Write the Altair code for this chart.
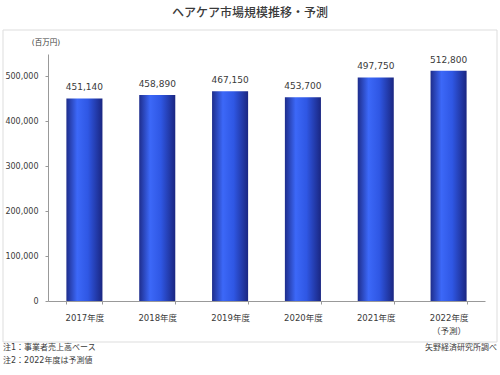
import altair as alt
import pandas as pd

years = ["2017年度", "2018年度", "2019年度", "2020年度", "2021年度", "2022年度"]
values = [451140, 458890, 467150, 453700, 497750, 512800]
y_ticks = [0, 100000, 200000, 300000, 400000, 500000]

title_text = "ヘアケア市場規模推移・予測"
unit_text = "(百万円)"
note1 = "注1：事業者売上高ベース"
note2 = "注2：2022年度は予測値"
source_text = "矢野経済研究所調べ"

FONT = "DejaVu Sans, Noto Sans CJK JP"
TXT = "#3a3a3a"
W, H = 437, 247

df = pd.DataFrame({"year": years, "value": values})

grad = alt.LinearGradient(
    gradient="linear",
    x1=0, x2=1, y1=0, y2=0,
    stops=[
        alt.GradientStop(offset=0, color="#1e2d8c"),
        alt.GradientStop(offset=0.3, color="#3c68f8"),
        alt.GradientStop(offset=0.6, color="#2f57e4"),
        alt.GradientStop(offset=1, color="#1a2681"),
    ],
)

base = alt.Chart(df)

bars = base.mark_bar(color=grad).encode(
    x=alt.X(
        "year:N",
        sort=years,
        title=None,
        scale=alt.Scale(paddingInner=0.505, paddingOuter=0.2525),
        axis=alt.Axis(
            labelAngle=0,
            labelFont=FONT,
            labelFontSize=8.5,
            labelColor=TXT,
            labelPadding=9,
            labelLineHeight=13,
            labelExpr="datum.value == '2022年度' ? ['2022年度', '（予測）'] : datum.value",
            tickBand="extent",
            tickSize=3,
            tickColor="#999999",
            domainColor="#999999",
        ),
    ),
    y=alt.Y(
        "value:Q",
        title=None,
        scale=alt.Scale(domain=[0, 550000], nice=False),
        axis=alt.Axis(
            values=y_ticks,
            format=",.0f",
            labelFont=FONT,
            labelFontSize=8,
            labelColor=TXT,
            labelPadding=7,
            tickSize=3,
            tickColor="#999999",
            domainColor="#999999",
            grid=False,
        ),
    ),
)

labels = base.mark_text(
    dy=-11, font=FONT, fontSize=9, color=TXT
).encode(
    x=alt.X("year:N", sort=years),
    y="value:Q",
    text=alt.Text("value:Q", format=",.0f"),
)

def note(text, x, y, align="left", size=8, weight="normal"):
    return alt.Chart(pd.DataFrame({"t": [text]})).mark_text(
        align=align, baseline="middle", font=FONT, fontSize=size,
        color=TXT, fontWeight=weight
    ).encode(x=alt.value(x), y=alt.value(y), text="t:N")

box = alt.Chart(pd.DataFrame({"a": [0]})).mark_rect(
    fill=None, stroke="#dddddd", strokeWidth=1
).encode(
    x=alt.value(-45), x2=alt.value(449), y=alt.value(-24), y2=alt.value(288)
)

title = note(title_text, 202, -41, align="center", size=12, weight=500)
unit = note(unit_text, -2, -11, align="center", size=7.5)
n1 = note(note1, -45, 294)
n2 = note(note2, -45, 307)
src = note(source_text, 449, 294, align="right")

chart = alt.layer(box, bars, labels, title, unit, n1, n2, src).properties(
    width=W, height=H,
    autosize=alt.AutoSizeParams(type="none"),
    padding={"left": 48, "top": 54, "right": 15, "bottom": 74},
    background="white",
).configure_view(stroke=None)

chart.save("out.html", embed_options={"renderer": "svg", "actions": False})
